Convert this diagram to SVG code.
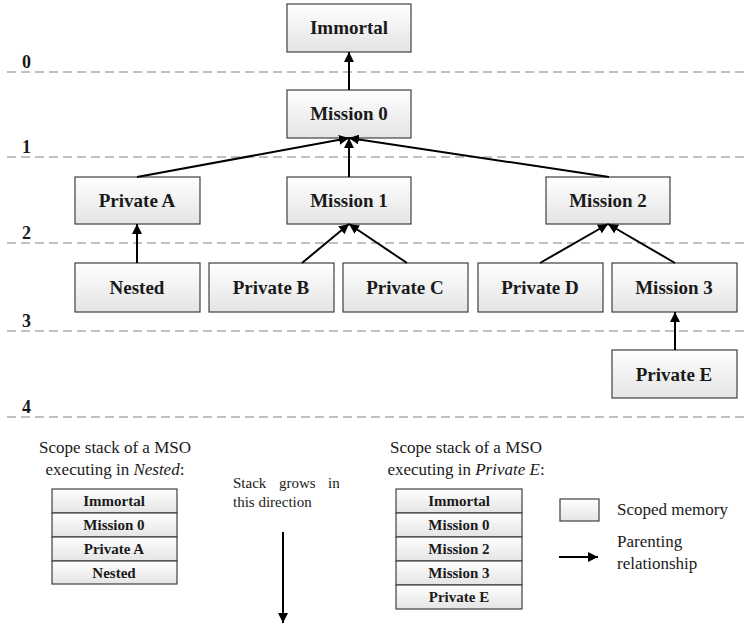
<svg xmlns="http://www.w3.org/2000/svg" width="747" height="632" viewBox="0 0 747 632">
<defs>
<linearGradient id="g" x1="0" y1="0" x2="0" y2="1">
<stop offset="0" stop-color="#ffffff"/>
<stop offset="1" stop-color="#e4e4e4"/>
</linearGradient>
<marker id="ah" viewBox="0 0 10 10" refX="10" refY="5" markerWidth="10" markerHeight="10" markerUnits="userSpaceOnUse" orient="auto">
<path d="M0,0 L10,5 L0,10 Z" fill="#000"/>
</marker>
</defs>
<style>
.box{fill:url(#g);stroke:#404040;stroke-width:1.2}
.lbl{font-family:"Liberation Serif",serif;font-weight:bold;font-size:19px;text-anchor:middle;fill:#1a1a1a}
.tl{font-family:"Liberation Serif",serif;font-weight:bold;font-size:15px;text-anchor:middle;fill:#1a1a1a}
.lvl{font-family:"Liberation Serif",serif;font-weight:bold;font-size:18px;fill:#1a1a1a}
.dash{stroke:#808080;stroke-width:1.2;stroke-dasharray:9,5;fill:none}
.txt{font-family:"Liberation Serif",serif;font-size:17px;fill:#1a1a1a}
.sm{font-family:"Liberation Serif",serif;font-size:15px;fill:#1a1a1a}
.conn{stroke:#000;stroke-width:2;fill:none;marker-end:url(#ah)}
</style>

<g id="levels">
<line class="dash" x1="7" y1="72" x2="747" y2="72"/>
<line class="dash" x1="7" y1="157" x2="747" y2="157"/>
<line class="dash" x1="7" y1="243" x2="747" y2="243"/>
<line class="dash" x1="7" y1="331" x2="747" y2="331"/>
<line class="dash" x1="7" y1="417" x2="747" y2="417"/>
<text class="lvl" x="22" y="68">0</text>
<text class="lvl" x="22" y="153">1</text>
<text class="lvl" x="22" y="239">2</text>
<text class="lvl" x="22" y="327">3</text>
<text class="lvl" x="22" y="413">4</text>
</g>

<g id="immortal"><rect class="box" x="287" y="4" width="124" height="48"/><text class="lbl" x="349" y="34">Immortal</text></g>
<g id="mission0"><rect class="box" x="287" y="90" width="124" height="48"/><text class="lbl" x="349" y="120">Mission 0</text></g>
<g id="privateA"><rect class="box" x="75" y="177" width="125" height="47"/><text class="lbl" x="137" y="207">Private A</text></g>
<g id="mission1"><rect class="box" x="287" y="177" width="124" height="47"/><text class="lbl" x="349" y="207">Mission 1</text></g>
<g id="mission2"><rect class="box" x="546" y="177" width="124" height="47"/><text class="lbl" x="608" y="207">Mission 2</text></g>
<g id="nested"><rect class="box" x="75" y="263" width="125" height="49"/><text class="lbl" x="137" y="294">Nested</text></g>
<g id="privateB"><rect class="box" x="209" y="263" width="125" height="49"/><text class="lbl" x="271" y="294">Private B</text></g>
<g id="privateC"><rect class="box" x="343" y="263" width="125" height="49"/><text class="lbl" x="405" y="294">Private C</text></g>
<g id="privateD"><rect class="box" x="478" y="263" width="125" height="49"/><text class="lbl" x="540" y="294">Private D</text></g>
<g id="mission3"><rect class="box" x="612" y="263" width="125" height="49"/><text class="lbl" x="674" y="294">Mission 3</text></g>
<g id="privateE"><rect class="box" x="612" y="350" width="125" height="48"/><text class="lbl" x="674" y="381">Private E</text></g>

<g id="connectors">
<line class="conn" x1="349" y1="90" x2="349" y2="52"/>
<line class="conn" x1="137" y1="177" x2="349" y2="138"/>
<line class="conn" x1="349" y1="177" x2="349" y2="138"/>
<line class="conn" x1="609" y1="177" x2="349" y2="138"/>
<line class="conn" x1="137" y1="263" x2="137" y2="224"/>
<line class="conn" x1="302" y1="263" x2="349" y2="224"/>
<line class="conn" x1="407" y1="263" x2="349" y2="224"/>
<line class="conn" x1="540" y1="263" x2="608" y2="224"/>
<line class="conn" x1="675" y1="263" x2="608" y2="224"/>
<line class="conn" x1="675" y1="350" x2="675" y2="312"/>
</g>

<g id="stack1">
<text class="txt" x="115" y="453" text-anchor="middle">Scope stack of a MSO</text>
<text class="txt" x="115" y="475" text-anchor="middle">executing in <tspan font-style="italic">Nested</tspan>:</text>
<rect class="box" x="52" y="489" width="125" height="24"/><text class="tl" x="114" y="506">Immortal</text>
<rect class="box" x="52" y="513" width="125" height="24"/><text class="tl" x="114" y="530">Mission 0</text>
<rect class="box" x="52" y="537" width="125" height="24"/><text class="tl" x="114" y="554">Private A</text>
<rect class="box" x="52" y="561" width="125" height="23"/><text class="tl" x="114" y="578">Nested</text>
</g>

<g id="growth">
<text class="sm" x="233" y="488">Stack</text>
<text class="sm" x="279" y="488">grows</text>
<text class="sm" x="328" y="488">in</text>
<text class="sm" x="233" y="507">this direction</text>
<line class="conn" x1="283" y1="532" x2="283" y2="623"/>
</g>

<g id="stack2">
<text class="txt" x="466" y="453" text-anchor="middle">Scope stack of a MSO</text>
<text class="txt" x="466" y="475" text-anchor="middle">executing in <tspan font-style="italic">Private E</tspan>:</text>
<rect class="box" x="396" y="489" width="126" height="24"/><text class="tl" x="459" y="506">Immortal</text>
<rect class="box" x="396" y="513" width="126" height="24"/><text class="tl" x="459" y="530">Mission 0</text>
<rect class="box" x="396" y="537" width="126" height="24"/><text class="tl" x="459" y="554">Mission 2</text>
<rect class="box" x="396" y="561" width="126" height="24"/><text class="tl" x="459" y="578">Mission 3</text>
<rect class="box" x="396" y="585" width="126" height="24"/><text class="tl" x="459" y="602">Private E</text>
</g>

<g id="legend">
<rect class="box" x="560" y="499" width="39" height="22"/>
<text class="txt" x="617" y="515">Scoped memory</text>
<line class="conn" x1="559" y1="557" x2="598" y2="557"/>
<text class="txt" x="617" y="547">Parenting</text>
<text class="txt" x="617" y="569">relationship</text>
</g>
</svg>
